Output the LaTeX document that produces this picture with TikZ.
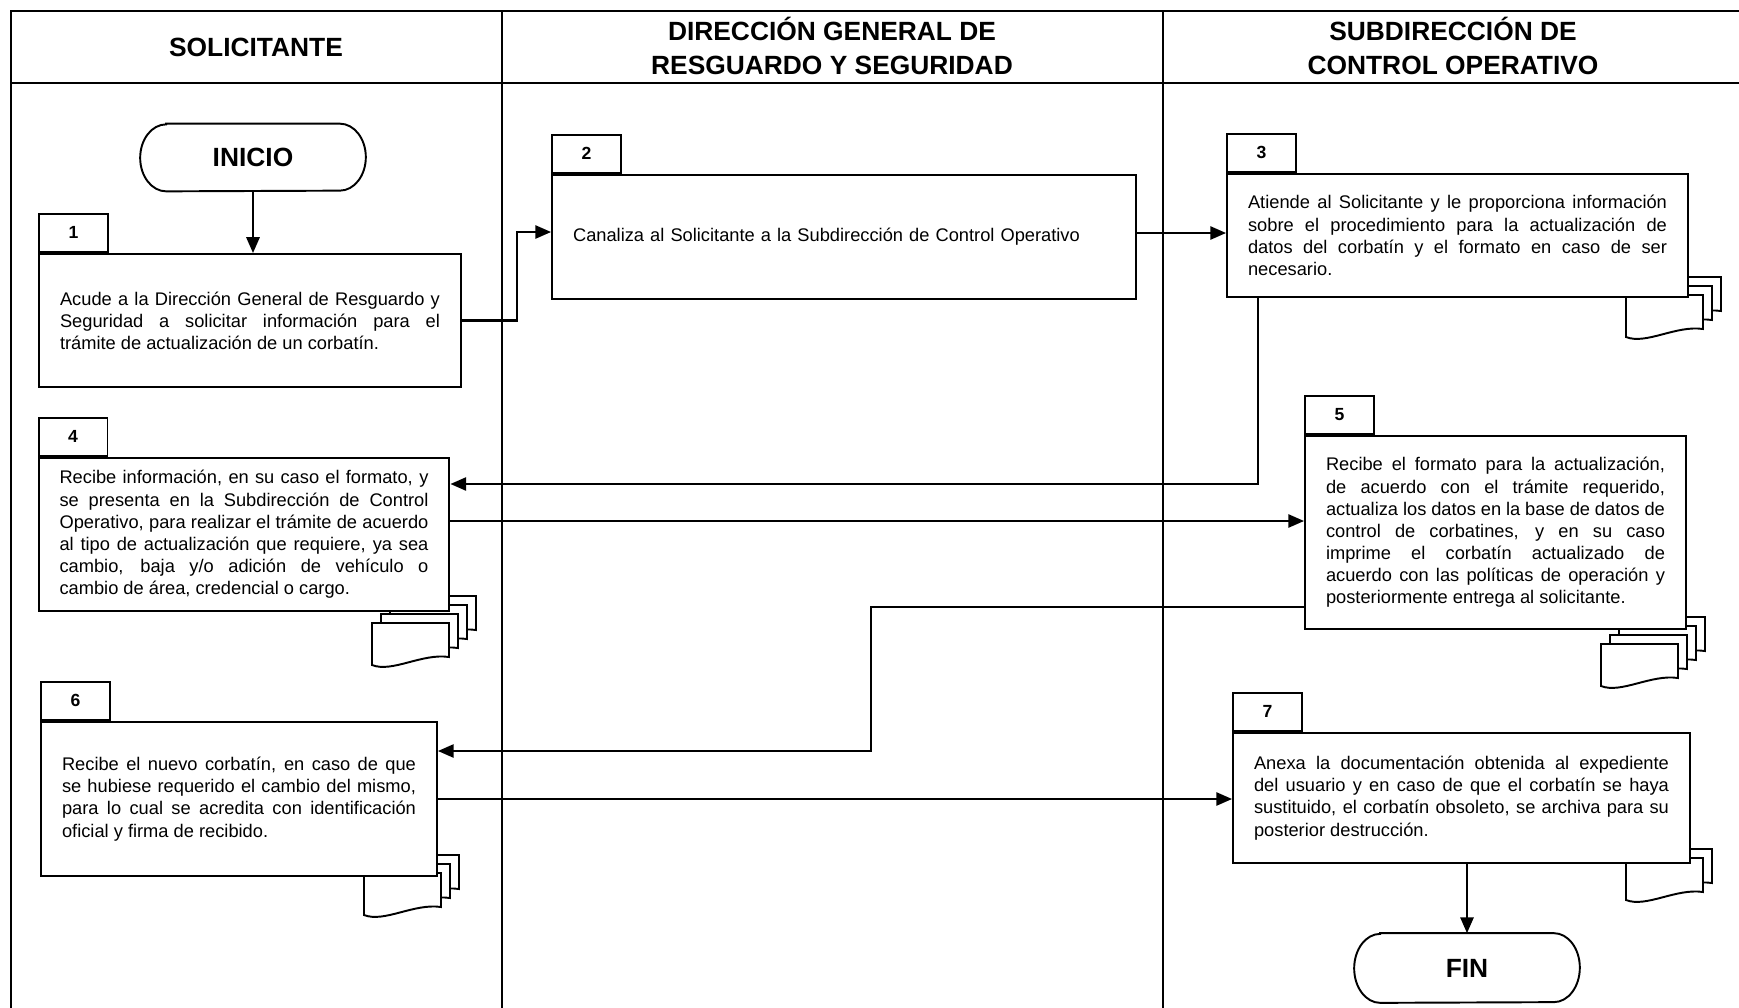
\documentclass[tikz,border=0pt]{standalone}
\usepackage{fontspec}
\setmainfont{Liberation Sans}
\usetikzlibrary{arrows.meta}

\tolerance=10000
\hyphenpenalty=10000
\exhyphenpenalty=10000
\hbadness=10000
\hfuzz=2pt

% A pile of sheets: #1,#2 = top-left of the front sheet, #3 = offsets, back to front
\newcommand\docpile[3]{%
  \foreach \k in {#3}{%
    \draw[sheet] (#1+9*\k, #2-9*\k) -- (#1+9*\k+77, #2-9*\k) -- (#1+9*\k+77, #2-9*\k+34)
      .. controls (#1+9*\k+50, #2-9*\k+30) and (#1+9*\k+20, #2-9*\k+50) .. (#1+9*\k, #2-9*\k+42) -- cycle;
  }}

% Stadium outline around a terminator node: #1 = node name, #2 = half height
\newcommand\stadium[2]{%
  \draw[termline] ([xshift=0.52cm]#1.north west) -- ([xshift=-0.52cm]#1.north east)
    arc[start angle=90, end angle=-90, x radius=0.52cm, y radius=#2]
    -- ([xshift=0.52cm]#1.south west)
    arc[start angle=270, end angle=90, x radius=0.52cm, y radius=#2] -- cycle;}

\begin{document}
\begin{tikzpicture}[x=0.02cm, y=-0.02cm,
  frame/.style={line width=1.7pt},
  lane/.style={line width=1.1pt},
  head/.style={font=\bfseries\fontsize{15}{19}\selectfont, align=center},
  stepbox/.style={draw, line width=1.1pt, fill=white, inner xsep=0.42cm, inner ysep=0pt,
    align=justify, font=\fontsize{10.4}{12.6}\selectfont},
  tabbox/.style={draw, line width=1.1pt, fill=white, minimum width=1.38cm, minimum height=0.77cm,
    inner sep=0pt, font=\bfseries\fontsize{10}{12}\selectfont},
  term/.style={minimum width=4.5cm, inner sep=0pt, font=\bfseries\fontsize{15}{18}\selectfont},
  termline/.style={line width=1.1pt},
  sheet/.style={draw, line width=1.1pt, fill=white},
  conn/.style={line width=1.3pt, -{Triangle[length=9pt, width=7.5pt]}}
]
\useasboundingbox (0,0) rectangle (1739,1008);

% swimlane frame
\draw[frame] (11,1012) -- (11,11) -- (1745,11);
\draw[frame] (11,83) -- (1745,83);
\draw[lane] (502,11) -- (502,1012);
\draw[lane] (1163,11) -- (1163,1012);

% lane titles
\node[head] (h1) at (256,47) {SOLICITANTE};
\node[head] (h2) at (832,46) {DIRECCIÓN GENERAL DE\\RESGUARDO Y SEGURIDAD};
\node[head] (h3) at (1453,46) {SUBDIRECCIÓN DE\\CONTROL OPERATIVO};

% document piles behind the steps
\docpile{1626}{295}{2,1,0}
\docpile{372}{623}{3,2,1,0}
\docpile{1601}{644}{3,2,1,0}
\docpile{364}{873}{2,1,0}
\docpile{1626}{858}{1,0}

% steps
\node[stepbox, text width=7.60cm, minimum height=2.66cm] (b1) at (250,320.5)
  {Acude a la Dirección General de Resguardo y\linebreak
   Seguridad a solicitar información para el\linebreak
   trámite de actualización de un corbatín.};
\node[tabbox, anchor=south west] (t1) at (b1.north west) {1};

\node[stepbox, text width=10.84cm, minimum height=2.48cm, align=left] (b2) at (844,237)
  {Canaliza al Solicitante a la Subdirección de Control Operativo};
\node[tabbox, anchor=south west] (t2) at (b2.north west) {2};

\node[stepbox, text width=8.38cm, minimum height=2.46cm] (b3) at (1457.5,235.5)
  {Atiende al Solicitante y le proporciona información\linebreak
   sobre el procedimiento para la actualización de\linebreak
   datos del corbatín y el formato en caso de ser\linebreak
   necesario.};
\node[tabbox, anchor=south west] (t3) at (b3.north west) {3};

\node[stepbox, text width=7.38cm, minimum height=3.06cm] (b4) at (244,534.5)
  {Recibe información, en su caso el formato, y\linebreak
   se presenta en la Subdirección de Control\linebreak
   Operativo, para realizar el trámite de acuerdo\linebreak
   al tipo de actualización que requiere, ya sea\linebreak
   cambio, baja y/o adición de vehículo o\linebreak
   cambio de área, credencial o cargo.};
\node[tabbox, anchor=south west] (t4) at (b4.north west) {4};

\node[stepbox, text width=6.78cm, minimum height=3.86cm] (b5) at (1495.5,532.5)
  {Recibe el formato para la actualización,\linebreak
   de acuerdo con el trámite requerido,\linebreak
   actualiza los datos en la base de datos de\linebreak
   control de corbatines, y en su caso\linebreak
   imprime el corbatín actualizado de\linebreak
   acuerdo con las políticas de operación y\linebreak
   posteriormente entrega al solicitante.};
\node[tabbox, anchor=south west] (t5) at (b5.north west) {5};

\node[stepbox, text width=7.08cm, minimum height=3.08cm] (b6) at (239,799)
  {Recibe el nuevo corbatín, en caso de que\linebreak
   se hubiese requerido el cambio del mismo,\linebreak
   para lo cual se acredita con identificación\linebreak
   oficial y firma de recibido.};
\node[tabbox, anchor=south west] (t6) at (b6.north west) {6};

\node[stepbox, text width=8.30cm, minimum height=2.60cm] (b7) at (1461.5,798)
  {Anexa la documentación obtenida al expediente\linebreak
   del usuario y en caso de que el corbatín se haya\linebreak
   sustituido, el corbatín obsoleto, se archiva para su\linebreak
   posterior destrucción.};
\node[tabbox, anchor=south west] (t7) at (b7.north west) {7};

% start and end
\node[term, minimum height=1.34cm] (inicio) at (253,157.5) {INICIO};
\stadium{inicio}{0.67cm}
\node[term, minimum height=1.38cm] (fin) at (1467,968) {FIN};
\stadium{fin}{0.69cm}

% flow
\draw[conn] (inicio.south) -- (inicio.south |- b1.north);
\draw[conn] (b1.east) -- ++(55,0) |- ([yshift=0.1cm]b2.west);
\coordinate (e2) at ([yshift=0.08cm]b2.east);
\draw[conn] (e2) -- (e2 -| b3.west);
\coordinate (k34) at (1258,484);
\draw[conn] (b3.south -| k34) -- (k34) -- (k34 -| b4.east);
\coordinate (k45) at (800,521);
\draw[conn] (k45 -| b4.east) -- (k45 -| b5.west);
\coordinate (k56a) at (871,607);
\coordinate (k56b) at (871,751);
\draw[conn] (k56a -| b5.west) -- (k56a) -- (k56b) -- (k56b -| b6.east);
\draw[conn] (b6.east) -- (b6.east -| b7.west);
\draw[conn] (fin.north |- b7.south) -- (fin.north);
\end{tikzpicture}
\end{document}
